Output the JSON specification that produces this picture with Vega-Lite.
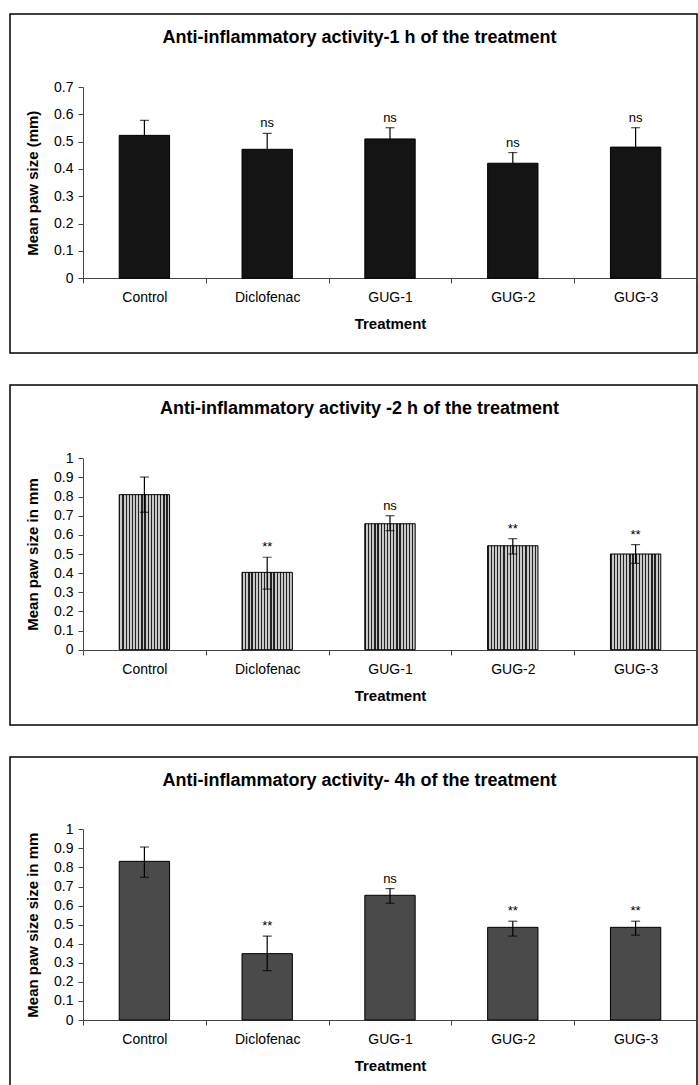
{
  "$schema": "https://vega.github.io/schema/vega-lite/v6.json",
  "background": "white",
  "padding": {"top": 13, "left": 9, "right": 0, "bottom": 0},
  "spacing": 30,
  "datasets": {
    "h1": [
      {"t": "Control", "mean": 0.523, "lo": 0.468, "hi": 0.578, "sig": ""},
      {"t": "Diclofenac", "mean": 0.472, "lo": 0.414, "hi": 0.530, "sig": "ns"},
      {"t": "GUG-1", "mean": 0.510, "lo": 0.469, "hi": 0.551, "sig": "ns"},
      {"t": "GUG-2", "mean": 0.421, "lo": 0.382, "hi": 0.460, "sig": "ns"},
      {"t": "GUG-3", "mean": 0.480, "lo": 0.409, "hi": 0.551, "sig": "ns"}
    ],
    "h2": [
      {"t": "Control", "mean": 0.81, "lo": 0.718, "hi": 0.902, "sig": ""},
      {"t": "Diclofenac", "mean": 0.404, "lo": 0.317, "hi": 0.483, "sig": "**"},
      {"t": "GUG-1", "mean": 0.658, "lo": 0.622, "hi": 0.70, "sig": "ns"},
      {"t": "GUG-2", "mean": 0.543, "lo": 0.50, "hi": 0.58, "sig": "**"},
      {"t": "GUG-3", "mean": 0.50, "lo": 0.451, "hi": 0.549, "sig": "**"}
    ],
    "h4": [
      {"t": "Control", "mean": 0.832, "lo": 0.748, "hi": 0.907, "sig": ""},
      {"t": "Diclofenac", "mean": 0.348, "lo": 0.259, "hi": 0.44, "sig": "**"},
      {"t": "GUG-1", "mean": 0.654, "lo": 0.612, "hi": 0.689, "sig": "ns"},
      {"t": "GUG-2", "mean": 0.486, "lo": 0.44, "hi": 0.518, "sig": "**"},
      {"t": "GUG-3", "mean": 0.486, "lo": 0.445, "hi": 0.518, "sig": "**"}
    ]
  },
  "config": {
    "font": "Liberation Sans",
    "view": {"stroke": "#000", "strokeWidth": 1.5},
    "title": {"fontSize": 18, "fontWeight": "bold", "color": "#000", "anchor": "middle", "offset": -33, "dx": 6},
    "axis": {
      "labelFont": "Liberation Sans", "labelFontSize": 14, "labelColor": "#000", "labelOverlap": false,
      "titleFont": "Liberation Sans", "titleFontSize": 15, "titleFontWeight": "bold", "titleColor": "#000",
      "domainColor": "#444", "tickColor": "#444", "tickSize": 5, "grid": false
    }
  },
  "resolve": {"scale": {"x": "independent", "y": "independent"}},
  "vconcat": [
    {
      "width": 687, "height": 339,
      "title": "Anti-inflammatory activity-1 h of the treatment",
      "data": {"name": "h1"},
      "encoding": {
        "x": {"field": "t", "type": "nominal", "sort": null,
              "scale": {"range": [73, 687], "paddingInner": 0, "paddingOuter": 0},
              "axis": {"title": "Treatment", "labelAngle": 0, "offset": -75, "tickBand": "extent", "labelPadding": 7, "titlePadding": 12}}
      },
      "layer": [
        {"mark": {"type": "bar", "width": {"band": 0.41}, "fill": "#141414", "stroke": "#000", "strokeWidth": 1},
         "encoding": {"y": {"field": "mean", "type": "quantitative",
            "scale": {"domain": [0, 0.7], "range": [264.3, 73], "nice": false, "zero": false},
            "axis": {"title": "Mean paw size (mm)", "values": [0, 0.1, 0.2, 0.3, 0.4, 0.5, 0.6, 0.7], "format": "~g", "offset": -73, "labelPadding": 5, "titlePadding": 13}}}},
        {"mark": {"type": "rule", "color": "#000", "strokeWidth": 1.2},
         "encoding": {"y": {"field": "mean", "type": "quantitative",
            "axis": {"title": "Mean paw size (mm)", "values": [0, 0.1, 0.2, 0.3, 0.4, 0.5, 0.6, 0.7], "format": "~g", "offset": -73, "labelPadding": 5, "titlePadding": 13}}, "y2": {"field": "hi"}}},
        {"mark": {"type": "tick", "color": "#000", "thickness": 1.2, "size": 9},
         "encoding": {"y": {"field": "hi", "type": "quantitative",
            "axis": {"title": "Mean paw size (mm)", "values": [0, 0.1, 0.2, 0.3, 0.4, 0.5, 0.6, 0.7], "format": "~g", "offset": -73, "labelPadding": 5, "titlePadding": 13}}}},
        {"mark": {"type": "text", "baseline": "bottom", "dy": -3, "fontSize": 13, "color": "#000"},
         "encoding": {"y": {"field": "hi", "type": "quantitative",
            "axis": {"title": "Mean paw size (mm)", "values": [0, 0.1, 0.2, 0.3, 0.4, 0.5, 0.6, 0.7], "format": "~g", "offset": -73, "labelPadding": 5, "titlePadding": 13}}, "text": {"field": "sig"}}}
      ]
    },
    {
      "width": 687, "height": 340,
      "title": "Anti-inflammatory activity -2 h of the treatment",
      "data": {"name": "h2"},
      "encoding": {
        "x": {"field": "t", "type": "nominal", "sort": null,
              "scale": {"range": [73, 687], "paddingInner": 0, "paddingOuter": 0},
              "axis": {"title": "Treatment", "labelAngle": 0, "offset": -75, "tickBand": "extent", "labelPadding": 7, "titlePadding": 12}}
      },
      "layer": [
        {"mark": {"type": "bar", "width": {"band": 0.41}, "stroke": "#000", "strokeWidth": 1,
          "fill": {"gradient": "linear", "x1": 0, "y1": 0, "x2": 1, "y2": 0, "stops": [
            {"offset": 0, "color": "#222"}, {"offset": 0.025, "color": "#222"}, {"offset": 0.025, "color": "#c8c8c8"}, {"offset": 0.0625, "color": "#c8c8c8"},
            {"offset": 0.0625, "color": "#222"}, {"offset": 0.0875, "color": "#222"}, {"offset": 0.0875, "color": "#c8c8c8"}, {"offset": 0.125, "color": "#c8c8c8"},
            {"offset": 0.125, "color": "#222"}, {"offset": 0.15, "color": "#222"}, {"offset": 0.15, "color": "#c8c8c8"}, {"offset": 0.1875, "color": "#c8c8c8"},
            {"offset": 0.1875, "color": "#222"}, {"offset": 0.2125, "color": "#222"}, {"offset": 0.2125, "color": "#c8c8c8"}, {"offset": 0.25, "color": "#c8c8c8"},
            {"offset": 0.25, "color": "#222"}, {"offset": 0.275, "color": "#222"}, {"offset": 0.275, "color": "#c8c8c8"}, {"offset": 0.3125, "color": "#c8c8c8"},
            {"offset": 0.3125, "color": "#222"}, {"offset": 0.3375, "color": "#222"}, {"offset": 0.3375, "color": "#c8c8c8"}, {"offset": 0.375, "color": "#c8c8c8"},
            {"offset": 0.375, "color": "#222"}, {"offset": 0.4, "color": "#222"}, {"offset": 0.4, "color": "#c8c8c8"}, {"offset": 0.4375, "color": "#c8c8c8"},
            {"offset": 0.4375, "color": "#222"}, {"offset": 0.4625, "color": "#222"}, {"offset": 0.4625, "color": "#c8c8c8"}, {"offset": 0.5, "color": "#c8c8c8"},
            {"offset": 0.5, "color": "#222"}, {"offset": 0.525, "color": "#222"}, {"offset": 0.525, "color": "#c8c8c8"}, {"offset": 0.5625, "color": "#c8c8c8"},
            {"offset": 0.5625, "color": "#222"}, {"offset": 0.5875, "color": "#222"}, {"offset": 0.5875, "color": "#c8c8c8"}, {"offset": 0.625, "color": "#c8c8c8"},
            {"offset": 0.625, "color": "#222"}, {"offset": 0.65, "color": "#222"}, {"offset": 0.65, "color": "#c8c8c8"}, {"offset": 0.6875, "color": "#c8c8c8"},
            {"offset": 0.6875, "color": "#222"}, {"offset": 0.7125, "color": "#222"}, {"offset": 0.7125, "color": "#c8c8c8"}, {"offset": 0.75, "color": "#c8c8c8"},
            {"offset": 0.75, "color": "#222"}, {"offset": 0.775, "color": "#222"}, {"offset": 0.775, "color": "#c8c8c8"}, {"offset": 0.8125, "color": "#c8c8c8"},
            {"offset": 0.8125, "color": "#222"}, {"offset": 0.8375, "color": "#222"}, {"offset": 0.8375, "color": "#c8c8c8"}, {"offset": 0.875, "color": "#c8c8c8"},
            {"offset": 0.875, "color": "#222"}, {"offset": 0.9, "color": "#222"}, {"offset": 0.9, "color": "#c8c8c8"}, {"offset": 0.9375, "color": "#c8c8c8"},
            {"offset": 0.9375, "color": "#222"}, {"offset": 0.9625, "color": "#222"}, {"offset": 0.9625, "color": "#c8c8c8"}, {"offset": 1, "color": "#c8c8c8"}
          ]}},
         "encoding": {"y": {"field": "mean", "type": "quantitative",
            "scale": {"domain": [0, 1], "range": [264.7, 73.3], "nice": false, "zero": false},
            "axis": {"title": "Mean paw size in mm", "values": [0, 0.1, 0.2, 0.3, 0.4, 0.5, 0.6, 0.7, 0.8, 0.9, 1], "format": "~g", "offset": -73, "labelPadding": 5, "titlePadding": 13}}}},
        {"mark": {"type": "rule", "color": "#000", "strokeWidth": 1.2},
         "encoding": {"y": {"field": "lo", "type": "quantitative",
            "axis": {"title": "Mean paw size in mm", "values": [0, 0.1, 0.2, 0.3, 0.4, 0.5, 0.6, 0.7, 0.8, 0.9, 1], "format": "~g", "offset": -73, "labelPadding": 5, "titlePadding": 13}}, "y2": {"field": "hi"}}},
        {"mark": {"type": "tick", "color": "#000", "thickness": 1.2, "size": 9},
         "encoding": {"y": {"field": "hi", "type": "quantitative",
            "axis": {"title": "Mean paw size in mm", "values": [0, 0.1, 0.2, 0.3, 0.4, 0.5, 0.6, 0.7, 0.8, 0.9, 1], "format": "~g", "offset": -73, "labelPadding": 5, "titlePadding": 13}}}},
        {"mark": {"type": "tick", "color": "#000", "thickness": 1.2, "size": 9},
         "encoding": {"y": {"field": "lo", "type": "quantitative",
            "axis": {"title": "Mean paw size in mm", "values": [0, 0.1, 0.2, 0.3, 0.4, 0.5, 0.6, 0.7, 0.8, 0.9, 1], "format": "~g", "offset": -73, "labelPadding": 5, "titlePadding": 13}}}},
        {"mark": {"type": "text", "baseline": "bottom", "dy": -3, "fontSize": 13, "color": "#000"},
         "encoding": {"y": {"field": "hi", "type": "quantitative",
            "axis": {"title": "Mean paw size in mm", "values": [0, 0.1, 0.2, 0.3, 0.4, 0.5, 0.6, 0.7, 0.8, 0.9, 1], "format": "~g", "offset": -73, "labelPadding": 5, "titlePadding": 13}}, "text": {"field": "sig"}}}
      ]
    },
    {
      "width": 687, "height": 331,
      "title": "Anti-inflammatory activity- 4h of the treatment",
      "data": {"name": "h4"},
      "encoding": {
        "x": {"field": "t", "type": "nominal", "sort": null,
              "scale": {"range": [73, 687], "paddingInner": 0, "paddingOuter": 0},
              "axis": {"title": "Treatment", "labelAngle": 0, "offset": -68, "tickBand": "extent", "labelPadding": 7, "titlePadding": 12}}
      },
      "layer": [
        {"mark": {"type": "bar", "width": {"band": 0.41}, "fill": "#4a4a4a", "stroke": "#000", "strokeWidth": 1},
         "encoding": {"y": {"field": "mean", "type": "quantitative",
            "scale": {"domain": [0, 1], "range": [263, 72.3], "nice": false, "zero": false},
            "axis": {"title": "Mean paw size size in mm", "values": [0, 0.1, 0.2, 0.3, 0.4, 0.5, 0.6, 0.7, 0.8, 0.9, 1], "format": "~g", "offset": -73, "labelPadding": 5, "titlePadding": 13}}}},
        {"mark": {"type": "rule", "color": "#000", "strokeWidth": 1.2},
         "encoding": {"y": {"field": "lo", "type": "quantitative",
            "axis": {"title": "Mean paw size size in mm", "values": [0, 0.1, 0.2, 0.3, 0.4, 0.5, 0.6, 0.7, 0.8, 0.9, 1], "format": "~g", "offset": -73, "labelPadding": 5, "titlePadding": 13}}, "y2": {"field": "hi"}}},
        {"mark": {"type": "tick", "color": "#000", "thickness": 1.2, "size": 9},
         "encoding": {"y": {"field": "hi", "type": "quantitative",
            "axis": {"title": "Mean paw size size in mm", "values": [0, 0.1, 0.2, 0.3, 0.4, 0.5, 0.6, 0.7, 0.8, 0.9, 1], "format": "~g", "offset": -73, "labelPadding": 5, "titlePadding": 13}}}},
        {"mark": {"type": "tick", "color": "#000", "thickness": 1.2, "size": 9},
         "encoding": {"y": {"field": "lo", "type": "quantitative",
            "axis": {"title": "Mean paw size size in mm", "values": [0, 0.1, 0.2, 0.3, 0.4, 0.5, 0.6, 0.7, 0.8, 0.9, 1], "format": "~g", "offset": -73, "labelPadding": 5, "titlePadding": 13}}}},
        {"mark": {"type": "text", "baseline": "bottom", "dy": -3, "fontSize": 13, "color": "#000"},
         "encoding": {"y": {"field": "hi", "type": "quantitative",
            "axis": {"title": "Mean paw size size in mm", "values": [0, 0.1, 0.2, 0.3, 0.4, 0.5, 0.6, 0.7, 0.8, 0.9, 1], "format": "~g", "offset": -73, "labelPadding": 5, "titlePadding": 13}}, "text": {"field": "sig"}}}
      ]
    }
  ]
}
